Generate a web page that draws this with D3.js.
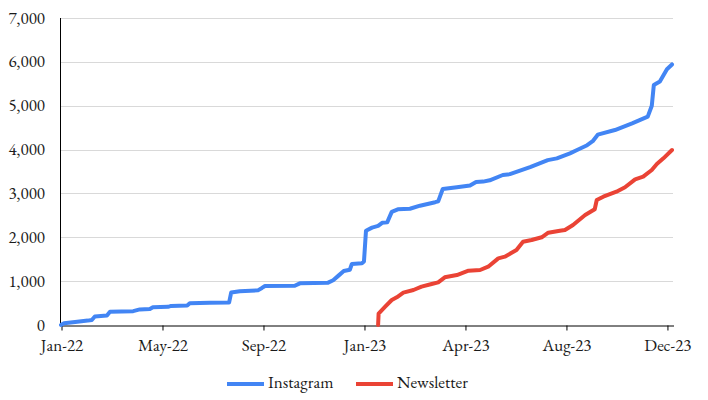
<!DOCTYPE html>
<html>
<head>
<meta charset="utf-8">
<script src="https://cdn.jsdelivr.net/npm/d3@7"></script>
<style>
  html, body { margin: 0; padding: 0; background: #fff; }
  svg text { font-family: "Garamond", "EB Garamond", "Liberation Serif", "DejaVu Serif", serif; font-size: 17px; fill: #1a1a1a; }
</style>
</head>
<body>
<svg id="chart" width="708" height="400"></svg>
<script>
// Category positions (index along the category axis) and tick labels
const tickPositions = [0, 20, 40, 60, 80, 100, 120];
const tickLabels = ["Jan-22", "May-22", "Sep-22", "Jan-23", "Apr-23", "Aug-23", "Dec-23"];
const yTicks = [0, 1000, 2000, 3000, 4000, 5000, 6000, 7000];
const seriesNames = ["Instagram", "Newsletter"];
const seriesColors = ["#4285F4", "#EA4335"];

// Instagram: category index and follower count
const instagramX = [0, 0.6, 2.8, 5.3, 6.1, 6.7, 9.1, 9.7, 14.3, 15.6, 17.6, 18.2, 21.2, 21.8, 25.0, 25.5, 29.5, 33.3, 33.7, 35.4,
  39.0, 39.8, 40.4, 46.3, 47.3, 52.9, 53.9, 54.9, 56.0, 57.2, 57.6, 59.6, 60.0, 60.4, 61.6, 62.8, 63.6, 64.6, 65.5, 66.7,
  69.1, 71.1, 74.1, 74.7, 75.6, 78.4, 81.0, 82.2, 83.6, 84.9, 87.5, 88.9, 92.9, 96.4, 98.2, 100.8, 102.2, 104.2, 105.3, 106.3,
  109.7, 113.1, 116.2, 117.0, 117.4, 118.6, 120.0, 121.0];
const instagramY = [0, 40, 70, 100, 115, 195, 215, 300, 315, 355, 365, 405, 415, 435, 445, 495, 505, 515, 740, 770,
  790, 845, 890, 895, 950, 965, 1020, 1120, 1230, 1260, 1390, 1410, 1450, 2150, 2220, 2260, 2330, 2340, 2580, 2637,
  2650, 2720, 2800, 2820, 3100, 3140, 3180, 3260, 3270, 3300, 3420, 3440, 3600, 3760, 3800, 3914, 3990, 4100, 4190, 4340,
  4446, 4598, 4750, 5000, 5470, 5550, 5830, 5940];

// Newsletter: category index and subscriber count
const newsletterX = [62.8, 62.9, 64.2, 65.5, 66.5, 67.8, 69.8, 71.4, 73.4, 74.7, 76.0, 78.4, 80.7, 83.0, 84.6, 86.6, 87.9, 90.2,
  91.5, 93.2, 95.2, 96.5, 98.8, 99.8, 101.4, 103.8, 105.7, 106.1, 107.4, 110.0, 111.7, 113.7, 115.3, 117.0, 118.0, 119.3, 121.0];
const newsletterY = [0, 260, 418, 570, 631, 737, 798, 874, 935, 973, 1087, 1140, 1238, 1254, 1330, 1520, 1558, 1710,
  1900, 1938, 2000, 2105, 2150, 2166, 2280, 2508, 2640, 2850, 2925, 3040, 3140, 3322, 3382, 3534, 3671, 3800, 3990];

const svg = d3.select("#chart");
const margin = { left: 61, right: 35, top: 18, bottom: 75 };
const W = 708, H = 400;

const x = d3.scaleLinear().domain([0, 121.2]).range([margin.left, W - margin.right]);
const y = d3.scaleLinear().domain([0, 7000]).range([H - margin.bottom, margin.top]);

// gridlines
svg.append("g")
  .selectAll("line")
  .data(yTicks.filter(d => d > 0))
  .join("line")
  .attr("x1", x(0)).attr("x2", x.range()[1])
  .attr("y1", d => Math.round(y(d)) + 0.5).attr("y2", d => Math.round(y(d)) + 0.5)
  .attr("stroke", "#d9d9d9").attr("stroke-width", 1);

// y labels
svg.append("g")
  .selectAll("text")
  .data(yTicks)
  .join("text")
  .attr("x", 45)
  .attr("y", d => y(d))
  .attr("dy", "0.33em")
  .attr("text-anchor", "end")
  .text(d => d3.format(",")(d));

// x axis
const xAxis = d3.axisBottom(x)
  .tickValues(tickPositions)
  .tickFormat((d, i) => tickLabels[i])
  .tickSize(5)
  .tickSizeOuter(0)
  .tickPadding(8);
const gx = svg.append("g")
  .attr("transform", `translate(0.5,${Math.round(y(0)) + 0.5})`)
  .call(xAxis);
gx.select(".domain").attr("stroke", "#000");
gx.selectAll(".tick line").attr("stroke", "#000");
gx.selectAll(".tick text")
  .attr("font-family", null).attr("font-size", null)
  .style("font-family", "Garamond, 'EB Garamond', 'Liberation Serif', serif")
  .style("font-size", "17px").attr("fill", "#1a1a1a");

// y axis line
svg.append("line")
  .attr("x1", x(0) - 0.5).attr("x2", x(0) - 0.5)
  .attr("y1", y(7000)).attr("y2", y(0))
  .attr("stroke", "#000").attr("stroke-width", 1);

const line = d3.line().x(d => x(d[0])).y(d => y(d[1]));
const seriesData = [
  d3.zip(instagramX, instagramY),
  d3.zip(newsletterX, newsletterY)
];

svg.append("g")
  .selectAll("path")
  .data(seriesData)
  .join("path")
  .attr("d", line)
  .attr("fill", "none")
  .attr("stroke", (d, i) => seriesColors[i])
  .attr("stroke-width", 4)
  .attr("stroke-linejoin", "round")
  .attr("stroke-linecap", "round");

// legend
const legendItems = [
  { name: seriesNames[0], color: seriesColors[0], x0: 227 },
  { name: seriesNames[1], color: seriesColors[1], x0: 356 }
];
const lg = svg.append("g");
legendItems.forEach(it => {
  lg.append("line")
    .attr("x1", it.x0).attr("x2", it.x0 + 37)
    .attr("y1", 384).attr("y2", 384)
    .attr("stroke", it.color).attr("stroke-width", 4);
  lg.append("text")
    .attr("x", it.x0 + 41).attr("y", 388)
    .text(it.name);
});
</script>
</body>
</html>
